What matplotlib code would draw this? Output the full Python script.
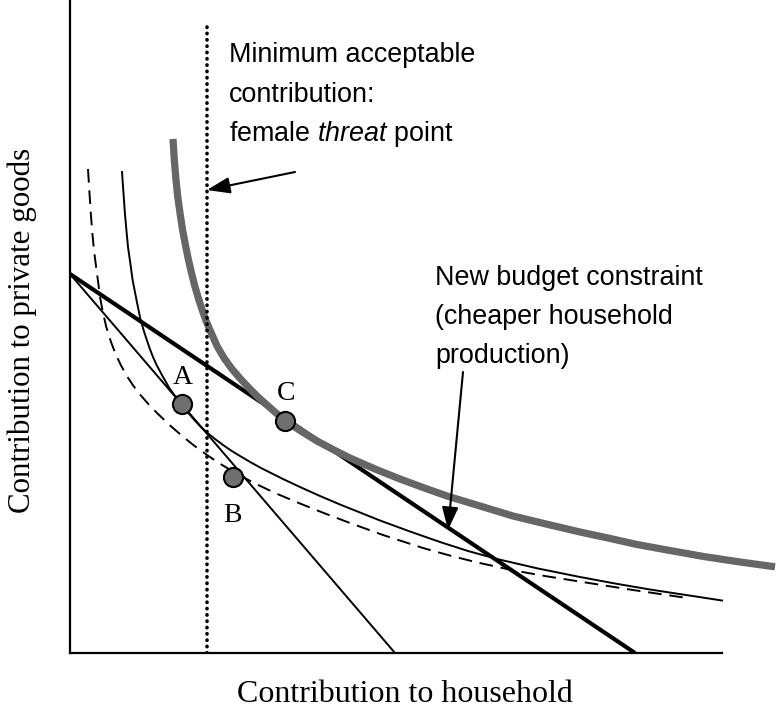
import matplotlib
matplotlib.use("Agg")
import matplotlib.pyplot as plt

plt.rcParams['mathtext.fontset'] = 'custom'
plt.rcParams['mathtext.rm'] = 'Liberation Sans'
plt.rcParams['mathtext.it'] = 'Liberation Sans:italic'

# ---- data (arbitrary diagram units) ----
grey_x = [103, 104.3, 106, 107.8, 110, 112.6, 115.6, 118.5, 121.5, 124.8, 128.3, 132.2, 136.5,
          141.5, 147, 154, 162, 171, 180, 188, 197, 206, 215, 230, 247, 263, 280, 305, 330,
          353, 377, 410, 443, 476, 510, 538, 567, 600, 633, 670, 705]
grey_y = [514, 493, 473, 456, 440, 423, 407, 393, 380, 367, 355, 343, 331,
          319.5, 307, 295, 284, 273.5, 264, 256, 248, 240, 233, 222.5, 212, 203.5, 195, 184, 174,
          165.5, 157, 147, 137, 129, 121, 115, 108.5, 102.5, 96.6, 91, 86.2]

ic_x = [52, 53.4, 54.9, 56.4, 58, 60.3, 62.6, 66.5, 70.6, 74.5, 79.5, 83, 86.6, 92.5, 99.3,
        105, 110.8, 117.5, 124.4, 131, 137.4, 145, 153, 161, 170, 181, 192, 202, 213, 230,
        250, 270, 290, 310, 340, 370, 398, 427, 468, 510, 545, 580, 616, 652]
ic_y = [481, 461, 440, 423, 406, 390, 373, 353, 333, 320, 305, 296, 288, 277, 265,
        257, 249, 241, 233, 226, 220, 214, 208, 202.5, 197, 190.5, 184.5, 179.5, 174, 166,
        157, 148.5, 140.5, 132.5, 121.5, 111, 102, 94, 84.5, 76, 69.5, 63.5, 58, 52.5]

dash_x = [18, 19.3, 20.7, 22.3, 24.2, 26.5, 28, 30, 32.8, 36.3, 41, 46, 51.3, 57.5, 63.5,
          70.5, 78.3, 87, 100, 113, 125, 137, 150, 163, 183, 205, 230, 255, 280, 313, 353,
          380, 407, 443, 476, 510, 563, 617]
dash_y = [484, 463, 441, 420, 401, 383, 372, 356, 341, 326, 311, 298, 287, 276, 267,
          258, 249, 240, 227.6, 216.3, 206.7, 198, 189.3, 181.5, 170.5, 160, 149.5, 139.5,
          130, 118, 105, 97.4, 90.6, 82.7, 76.8, 71.4, 63, 55]

old_budget_x = [0, 325]
old_budget_y = [379, 0]
new_budget_x = [0, 565]
new_budget_y = [379, 0]

threat_x = 137
threat_y = [0, 630]

point_labels = ['A', 'B', 'C']
point_x = [112, 163, 215]
point_y = [249, 176, 232]

fig = plt.figure(figsize=(7.77, 7.11), dpi=100)
ax = fig.add_axes([70/777, (711-653)/711, (777-70)/777, 653/711])
ax.set_xlim(0, 707)
ax.set_ylim(0, 653)
ax.set_xticks([])
ax.set_yticks([])
for s in ['top', 'right']:
    ax.spines[s].set_visible(False)
ax.spines['left'].set_linewidth(1.6)
ax.spines['bottom'].set_linewidth(1.6)
ax.spines['bottom'].set_bounds(0, 652)
ax.patch.set_alpha(0)

ax.plot(old_budget_x, old_budget_y, color='black', lw=1.4, solid_capstyle='butt')
ax.plot(new_budget_x, new_budget_y, color='black', lw=3.0, solid_capstyle='butt')
ax.plot(dash_x, dash_y, color='black', lw=1.4, linestyle=(0, (7, 4)))
ax.plot(ic_x, ic_y, color='black', lw=1.4, solid_joinstyle='round')
ax.plot(grey_x, grey_y, color='#666666', lw=5.2, solid_capstyle='butt',
        solid_joinstyle='round')
ax.plot([threat_x, threat_x], threat_y, color='black', lw=2.6,
        linestyle=(0, (0.1, 1.65)), dash_capstyle='round')

ax.scatter(point_x, point_y, s=190, facecolor='#6f6f6f', edgecolor='black',
           linewidth=1.5, zorder=5)

label_dx = [1, -1, 1]
label_dy = [26, -38, 27]
for lab, px, py, dx, dy in zip(point_labels, point_x, point_y, label_dx, label_dy):
    ax.text(px + dx, py + dy, lab, family='Liberation Serif', fontsize=20,
            ha='center', va='center')

astyle = '-|>,head_length=1.4,head_width=0.5'
ax.annotate('', xy=(137, 463), xytext=(225, 481),
            arrowprops=dict(arrowstyle=astyle, color='black', lw=1.5, shrinkA=0, shrinkB=0))
ax.annotate('', xy=(378, 123), xytext=(393, 281),
            arrowprops=dict(arrowstyle=astyle, color='black', lw=1.5, shrinkA=0, shrinkB=0))

sans = 'Liberation Sans'
for txt, yb in zip(['Minimum acceptable', 'contribution:', r'female $threat$ point'],
                   [591, 551, 512]):
    ax.text(159, yb, txt, family=sans, fontsize=19.4, ha='left', va='baseline')
for txt, yb in zip(['New budget constraint', '(cheaper household', 'production)'],
                   [368, 329, 290]):
    ax.text(365, yb, txt, family=sans, fontsize=19.4, ha='left', va='baseline')

fig.text(405/777, 1 - 702/711, 'Contribution to household', family='Liberation Serif',
         fontsize=23, ha='center', va='baseline')
fig.text(22/777, 1 - 330/711, 'Contribution to private goods', family='Liberation Serif',
         fontsize=22.3, ha='center', va='center', rotation=90)

fig.savefig('out.png', dpi=100, facecolor='white')
